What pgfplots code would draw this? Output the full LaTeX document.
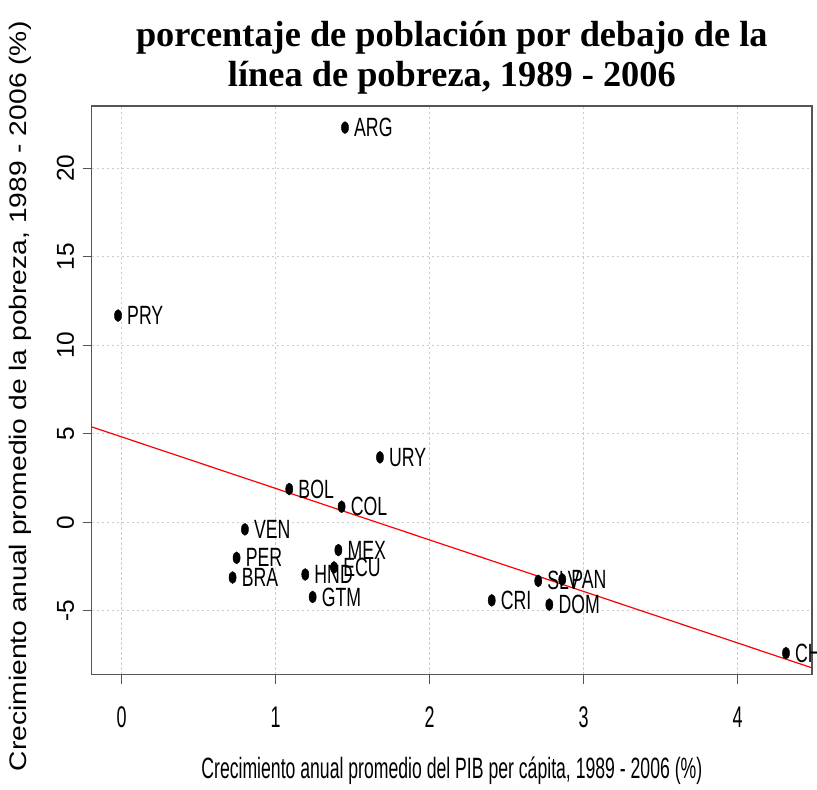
\documentclass[border=0pt]{standalone}
\usepackage{pgfplots}
\pgfplotsset{compat=1.18}
\usepackage{pgfplotstable}
\usepackage{graphicx}
\usepackage{fontspec}
\setmainfont{Liberation Serif}
\newfontfamily\hv{Liberation Sans}
\definecolor{framegray}{HTML}{555555}
\definecolor{gridgray}{HTML}{CCCCCC}
\pgfplotstableread{
name x y
ARG 1.45 22.3
PRY -0.024 11.68
URY 1.677 3.67
BOL 1.088 1.88
COL 1.428 0.88
VEN 0.80 -0.40
PER 0.746 -2.01
BRA 0.72 -3.12
MEX 1.407 -1.57
ECU 1.379 -2.55
HND 1.192 -2.95
GTM 1.24 -4.22
CRI 2.403 -4.41
SLV 2.705 -3.31
PAN 2.861 -3.23
DOM 2.777 -4.65
CHL 4.314 -7.39
}\pov
\begin{document}
\begin{tikzpicture}
\begin{axis}[
  scale only axis,
  width=720.3bp, height=568.5bp,
  xmin=-0.195, xmax=4.483,
  ymin=-8.60, ymax=23.52,
  xtick={0,1,2,3,4},
  ytick={-5,0,5,10,15,20},
  tick pos=left,
  tick align=outside,
  major tick length=9bp,
  tick style={framegray, line width=1.2bp},
  axis line style={framegray, line width=1.4bp},
  grid=major,
  grid style={gridgray, dash pattern=on 2.5bp off 2.5bp, line width=1bp},
  /pgf/number format/assume math mode=true,
  xticklabel={\scalebox{0.6}[1]{\pgfmathprintnumber{\tick}}},
  xticklabel style={font=\hv\fontsize{30}{30}\selectfont, anchor=center, yshift=-34bp},
  yticklabel style={font=\hv\fontsize{24.5}{24.5}\selectfont, anchor=south, xshift=-5bp, rotate=90},
  xlabel={\scalebox{0.6}[1]{Crecimiento anual promedio del PIB per cápita, 1989 - 2006 (\%)}},
  every axis x label/.style={at={(axis description cs:0.5,0)}, anchor=center, yshift=-96bp, font=\hv\fontsize{29.5}{29.5}\selectfont},
  ylabel={\scalebox{1.18}[1]{Crecimiento anual promedio de la pobreza, 1989 - 2006 (\%)}},
  every axis y label/.style={at={(axis description cs:0,0.5)}, anchor=center, xshift=-71bp, yshift=-6bp, rotate=90, font=\hv\fontsize{24}{24}\selectfont},
  title={porcentaje de población por debajo de la\\línea de pobreza, 1989 - 2006},
  every axis title/.style={at={(axis description cs:0.5,1)}, anchor=south, yshift=12bp, align=center, inner sep=0pt, font=\bfseries\fontsize{36.5}{40}\selectfont},
]
\addplot[red, line width=1.2bp, forget plot] coordinates {(-0.195,5.39) (4.483,-8.225)};
\addplot[only marks, mark=*, mark size=6bp, mark options={xscale=0.6, fill=black, draw=black},
  point meta=explicit symbolic,
  nodes near coords={\scalebox{0.67}[1]{\pgfplotspointmeta}},
  every node near coord/.style={anchor=west, inner sep=0pt, xshift=9bp, font=\hv\fontsize{26.5}{26.5}\selectfont, text=black}
] table[x=x, y=y, meta=name] {\pov};
\end{axis}
\pgfresetboundingbox
\useasboundingbox ([xshift=-91.7bp,yshift=-115.5bp]current axis.south west) rectangle ([xshift=5bp,yshift=106bp]current axis.north east);
\end{tikzpicture}
\end{document}
